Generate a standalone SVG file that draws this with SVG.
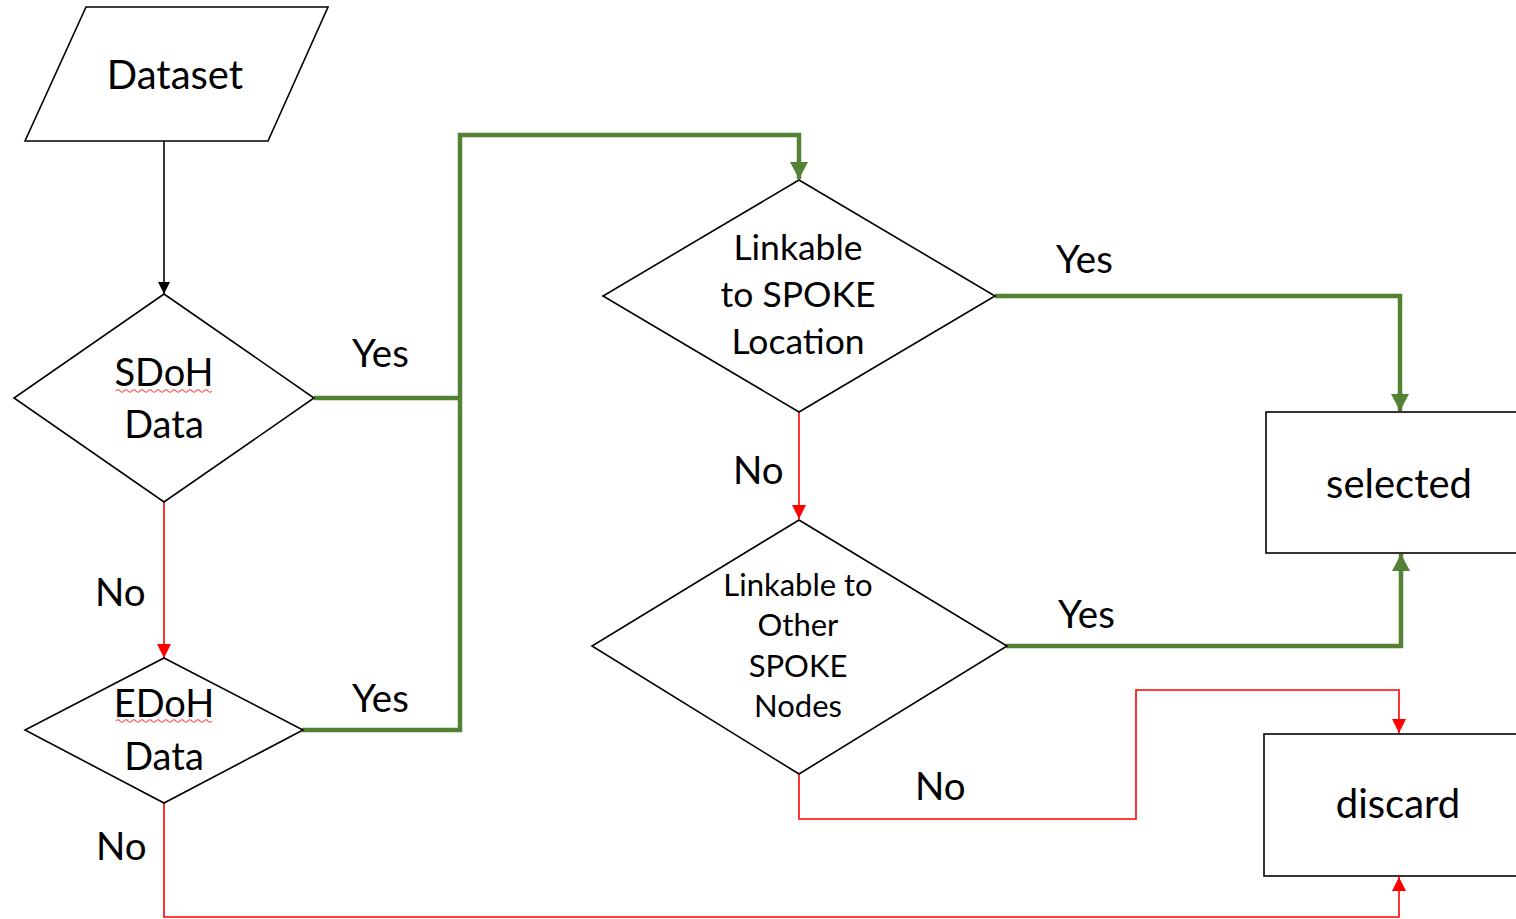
<svg xmlns="http://www.w3.org/2000/svg" width="1516" height="919" viewBox="0 0 1516 919">
  <style>
    .shape { fill: #ffffff; stroke: #000000; stroke-width: 1.6; }
    .lbl { font-family: Lato, "Open Sans", sans-serif; fill: #000000; text-anchor: middle; }
    .big { font-size: 40px; }
    .dia { font-size: 38px; }
    .mid { font-size: 35.5px; }
    .small { font-size: 31px; }
    .edge { font-size: 38.5px; text-anchor: start; }
    .green { fill: none; stroke: #548235; stroke-width: 4.5; }
    .red { fill: none; stroke: #ff0000; stroke-width: 1.6; }
    .black { fill: none; stroke: #000000; stroke-width: 1.6; }
    .squiggle { fill: none; stroke: #ff4040; stroke-width: 1.2; }
  </style>
  <defs>
    <marker id="arrBlack" markerUnits="userSpaceOnUse" markerWidth="14" markerHeight="14" refX="12" refY="6" orient="auto">
      <path d="M0,0 L12,6 L0,12 Z" fill="#000000"/>
    </marker>
    <marker id="arrRed" markerUnits="userSpaceOnUse" markerWidth="16" markerHeight="16" refX="14" refY="7" orient="auto">
      <path d="M0,0 L14,7 L0,14 Z" fill="#ff0000"/>
    </marker>
    <marker id="arrGreen" markerUnits="userSpaceOnUse" markerWidth="20" markerHeight="20" refX="17" refY="9" orient="auto">
      <path d="M0,0 L17,9 L0,18 Z" fill="#548235"/>
    </marker>
  </defs>

  <rect width="1516" height="919" fill="#ffffff"/>

  <!-- connectors -->
  <g id="connectors">
    <path class="black" d="M164,141 V294" marker-end="url(#arrBlack)"/>
    <path class="red" d="M164,502 V658" marker-end="url(#arrRed)"/>
    <path class="red" d="M164,803 V917 H1399 V877" marker-end="url(#arrRed)"/>
    <path class="green" d="M314,398 H460"/>
    <path class="green" d="M302,730 H460 V135 H799 V179" marker-end="url(#arrGreen)"/>
    <path class="green" d="M995,296 H1400 V411" marker-end="url(#arrGreen)"/>
    <path class="red" d="M799,412 V519" marker-end="url(#arrRed)"/>
    <path class="green" d="M1006,646 H1401 V554" marker-end="url(#arrGreen)"/>
    <path class="red" d="M799,774 V819 H1136 V690 H1399 V733" marker-end="url(#arrRed)"/>

    <text class="lbl edge" x="352" y="367">Yes</text>
    <text class="lbl edge" x="352" y="712">Yes</text>
    <text class="lbl edge" x="95" y="606">No</text>
    <text class="lbl edge" x="96" y="860">No</text>
    <text class="lbl edge" x="1056" y="273">Yes</text>
    <text class="lbl edge" x="733" y="484">No</text>
    <text class="lbl edge" x="1058" y="628">Yes</text>
    <text class="lbl edge" x="915" y="800">No</text>
  </g>

  <!-- nodes -->
  <g id="dataset">
    <polygon class="shape" points="86,7 328,7 268,141 25,141"/>
    <text class="lbl big" x="175" y="89">Dataset</text>
  </g>

  <g id="sdoh">
    <polygon class="shape" points="164,294 314,398 164,502 14,398"/>
    <text class="lbl dia" x="164" y="386">SDoH</text>
    <path class="squiggle" d="M116,391 q2,-2.5 4,0 t4,0 t4,0 t4,0 t4,0 t4,0 t4,0 t4,0 t4,0 t4,0 t4,0 t4,0 t4,0 t4,0 t4,0 t4,0 t4,0 t4,0 t4,0 t4,0 t4,0 t4,0 t4,0 t4,0"/>
    <text class="lbl dia" x="164" y="438">Data</text>
  </g>

  <g id="edoh">
    <polygon class="shape" points="164,658 303,730 164,803 25,730"/>
    <text class="lbl dia" x="164" y="717">EDoH</text>
    <path class="squiggle" d="M116,721 q2,-2.5 4,0 t4,0 t4,0 t4,0 t4,0 t4,0 t4,0 t4,0 t4,0 t4,0 t4,0 t4,0 t4,0 t4,0 t4,0 t4,0 t4,0 t4,0 t4,0 t4,0 t4,0 t4,0 t4,0 t4,0"/>
    <text class="lbl dia" x="164" y="770">Data</text>
  </g>

  <g id="linkable-location">
    <polygon class="shape" points="799,180 995,296 799,412 603,296"/>
    <text class="lbl mid" x="798" y="260">Linkable</text>
    <text class="lbl mid" x="798" y="307">to SPOKE</text>
    <text class="lbl mid" x="798" y="354">Location</text>
  </g>

  <g id="linkable-nodes">
    <polygon class="shape" points="799,520 1007,646 799,774 592,646"/>
    <text class="lbl small" x="798" y="596">Linkable to</text>
    <text class="lbl small" x="798" y="636">Other</text>
    <text class="lbl small" x="798" y="677">SPOKE</text>
    <text class="lbl small" x="798" y="717">Nodes</text>
  </g>

  <g id="selected">
    <rect class="shape" x="1266" y="412" width="260" height="141"/>
    <text class="lbl big" x="1399" y="498">selected</text>
  </g>

  <g id="discard">
    <rect class="shape" x="1264" y="734" width="262" height="142"/>
    <text class="lbl big" x="1398" y="818">discard</text>
  </g>
</svg>
